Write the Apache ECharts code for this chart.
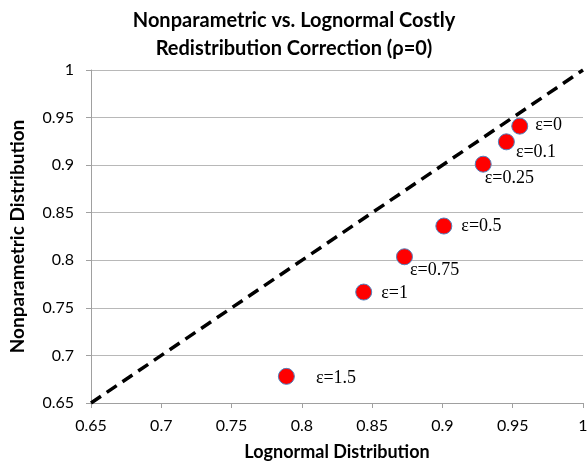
<!DOCTYPE html>
<html><head><meta charset="utf-8">
<script src="https://cdn.jsdelivr.net/npm/echarts@6/dist/echarts.min.js"></script>
<style>html,body{margin:0;padding:0;background:#fff}#c{width:588px;height:464px}</style>
</head><body><div id="c"></div>
<script>
const labels = ['ε=0','ε=0.1','ε=0.25','ε=0.5','ε=0.75','ε=1','ε=1.5'];
const lognormal = [0.955, 0.9455, 0.929, 0.901, 0.873, 0.844, 0.789];
const nonparametric = [0.941, 0.9245, 0.901, 0.836, 0.8037, 0.7666, 0.678];
const diagonal = [[0.65, 0.65], [1, 1]];

const labelStyle = [
  {position:'right', offset:[2,-1]},
  {position:'right', offset:[-4,10]},
  {position:'right', offset:[-12,14]},
  {position:'right', offset:[4,0]},
  {position:'right', offset:[-8,14]},
  {position:'right', offset:[4,1]},
  {position:'right', offset:[16,2]}
];

const chart = echarts.init(document.getElementById('c'));
chart.setOption({
  animation:false,
  title:{text:'Nonparametric vs. Lognormal Costly\nRedistribution Correction (\u03C1=0)',
    left:'center', top:2,
    textStyle:{fontFamily:'Lato', fontWeight:'bold', fontSize:20, lineHeight:28, color:'#000'}},
  grid:{left:91, right:5, top:70, bottom:61, containLabel:false, outerBoundsMode:'none'},
  xAxis:{type:'value', min:0.65, max:1, interval:0.05,
    name:'Lognormal Distribution', nameLocation:'middle', nameGap:40,
    nameTextStyle:{fontFamily:'Lato', fontWeight:'bold', fontSize:18, color:'#000'},
    axisLine:{show:true, lineStyle:{color:'#a0a0a0'}},
    axisTick:{show:true, length:5, lineStyle:{color:'#a0a0a0'}},
    axisLabel:{fontFamily:'Lato', fontSize:16, color:'#000', margin:15,
      formatter:v=>String(+v.toFixed(2))},
    splitLine:{show:false}},
  yAxis:{type:'value', min:0.65, max:1, interval:0.05,
    name:'Nonparametric Distribution', nameLocation:'middle', nameGap:64,
    nameTextStyle:{fontFamily:'Lato', fontWeight:'bold', fontSize:19, color:'#000'},
    axisLine:{show:true, lineStyle:{color:'#a0a0a0'}},
    axisTick:{show:true, length:5, lineStyle:{color:'#a0a0a0'}},
    axisLabel:{fontFamily:'Lato', fontSize:16, color:'#000', margin:17,
      formatter:v=>String(+v.toFixed(2))},
    splitLine:{show:true, lineStyle:{color:'#b8b8b8'}}},
  series:[
    {type:'line', data:diagonal, symbol:'none', silent:true,
      lineStyle:{color:'#000', width:3.5, type:[12,7]}, z:2},
    {type:'scatter', symbolSize:16, z:3,
      itemStyle:{color:'#ff0000', opacity:1, borderColor:'#4f81bd', borderWidth:1},
      data: lognormal.map((x,i)=>({value:[x, nonparametric[i]],
        label:Object.assign({show:true, formatter:labels[i],
          fontFamily:'Liberation Serif', fontSize:18, color:'#000'}, labelStyle[i])}))}
  ]
});
</script></body></html>
